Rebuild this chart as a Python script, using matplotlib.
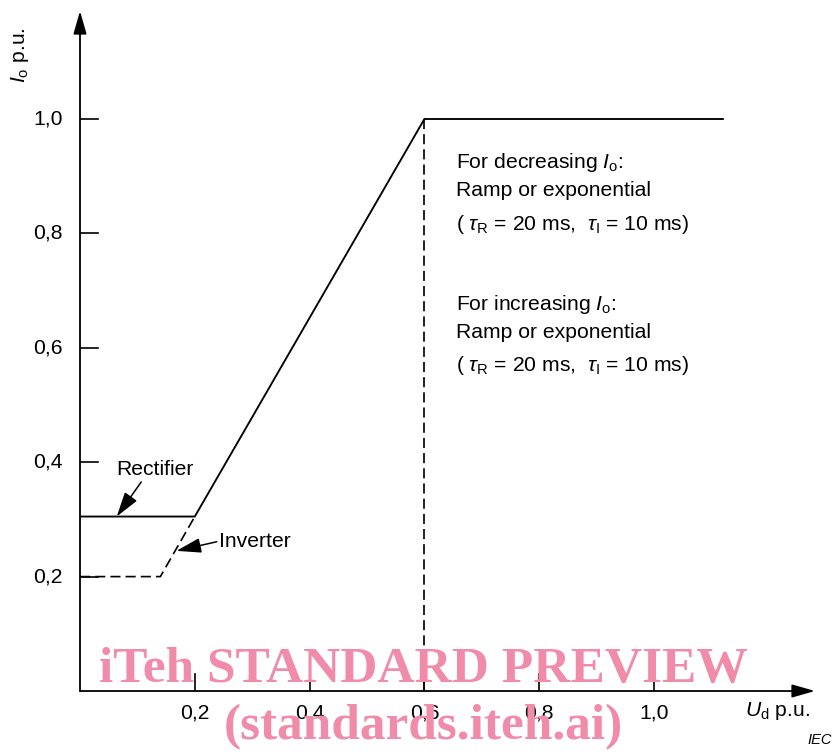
import matplotlib
matplotlib.use("Agg")
import matplotlib.pyplot as plt

plt.rcParams['font.family'] = ['Liberation Sans', 'DejaVu Sans']
plt.rcParams['mathtext.fontset'] = 'custom'
plt.rcParams['mathtext.rm'] = 'Liberation Sans'
plt.rcParams['mathtext.it'] = 'Liberation Sans:italic'

# characteristic (Ud p.u. -> Io p.u.)
rect_x = [0.0, 0.2, 0.6, 1.12]
rect_y = [0.305, 0.305, 1.0, 1.0]
inv_x = [0.0, 0.14, 0.2]
inv_y = [0.2, 0.2, 0.305]
vline_x = [0.6, 0.6]
vline_y = [0.0, 1.0]

xticks = [0.2, 0.4, 0.6, 0.8, 1.0]
yticks = [0.2, 0.4, 0.6, 0.8, 1.0]
xticklabels = ["0,2", "0,4", "0,6", "0,8", "1,0"]
yticklabels = ["0,2", "0,4", "0,6", "0,8", "1,0"]

W, H = 836, 752
px_x = 574.0  # pixels per unit on x
px_y = 572.0  # pixels per unit on y
x0, y0 = 80, 691

fig = plt.figure(figsize=(W / 100, H / 100), dpi=100)
ax = fig.add_axes([x0 / W, (H - y0) / H, (W - x0) / W, y0 / H])
ax.set_xlim(0, (W - x0) / px_x)
ax.set_ylim(0, y0 / px_y)
ax.axis('off')

lw = 1.35
fs = 15.2

# axes with arrows
head = "-|>,head_length=1.4,head_width=0.4"
ax.annotate("", xy=((815 - x0) / px_x, 0), xytext=(0, 0),
            arrowprops=dict(arrowstyle=head, lw=1.3, color="black",
                            shrinkA=0, shrinkB=0), zorder=5)
ax.annotate("", xy=(0, (y0 - 11) / px_y), xytext=(0, 0),
            arrowprops=dict(arrowstyle=head, lw=1.3, color="black",
                            shrinkA=0, shrinkB=0), zorder=5)

tick_len_x = 18 / px_x
tick_len_y = 17 / px_y
for t, lab in zip(xticks, xticklabels):
    ax.plot([t, t], [0, tick_len_y], color="black", lw=1.2, zorder=5)
    ax.text(t, -22 / px_y, lab, ha="center", va="center", fontsize=fs)
for t, lab in zip(yticks, yticklabels):
    ax.plot([0, tick_len_x], [t, t], color="black", lw=1.2, zorder=5)
    ax.text(-17 / px_x, t, lab, ha="right", va="center", fontsize=fs)

# curves
ax.plot(rect_x, rect_y, color="black", lw=lw, solid_joinstyle="miter", zorder=4)
ax.plot(inv_x, inv_y, color="black", lw=lw * 0.9, dashes=(6, 3), zorder=4)
ax.plot(vline_x, vline_y, color="black", lw=lw * 0.9, dashes=(6, 3), zorder=4)

# annotations
ax.annotate("Rectifier", xy=(0.064, 0.305), xytext=(0.063, 0.387),
            fontsize=fs, ha="left", va="center",
            arrowprops=dict(arrowstyle="-|>,head_length=1.0,head_width=0.3", lw=1.1,
                            color="black", shrinkA=0, shrinkB=0,
                            relpos=(0.35, 0.0)))
ax.annotate("Inverter", xy=(0.168, 0.245), xytext=(0.243, 0.262),
            fontsize=fs, ha="left", va="center",
            arrowprops=dict(arrowstyle="-|>,head_length=1.0,head_width=0.3", lw=1.1,
                            color="black", shrinkA=0, shrinkB=0,
                            relpos=(0.0, 0.5)))

tx = (456 - x0) / px_x
blocks = [("decreasing", 163), ("increasing", 305)]
for word, ypix in blocks:
    ax.text(tx, (y0 - ypix) / px_y, "For %s $I_{\\rm o}$:" % word, fontsize=fs, ha="left", va="center")
    ax.text(tx, (y0 - ypix - 27) / px_y, "Ramp or exponential", fontsize=fs, ha="left", va="center")
    ax.text(tx, (y0 - ypix - 61) / px_y,
            "( $\\tau_{\\rm R}$ = 20 ms,  $\\tau_{\\rm I}$ = 10 ms)",
            fontsize=fs, ha="left", va="center")

# axis labels
ax.text((745 - x0) / px_x, (y0 - 711) / px_y, "$U_{\\rm d}$ p.u.", fontsize=fs, ha="left", va="center")
fig.text(20 / W, 1 - 55 / H, "$I_{\\rm o}$ p.u.", fontsize=fs, ha="center", va="center", rotation=90)
fig.text(832 / W, 1 - 740 / H, "IEC", fontsize=10.5, style="italic", ha="right", va="center")

# watermark
wm = "#f08caa"
fig.text(423 / W, 1 - 670 / H, "iTeh STANDARD PREVIEW", fontsize=37, fontweight="bold",
         family="Liberation Serif", color=wm, ha="center", va="center", zorder=1)
fig.text(423 / W, 1 - 727 / H, "(standards.iteh.ai)", fontsize=37, fontweight="bold",
         family="Liberation Serif", color=wm, ha="center", va="center", zorder=1)

fig.savefig("out.png", dpi=100)
